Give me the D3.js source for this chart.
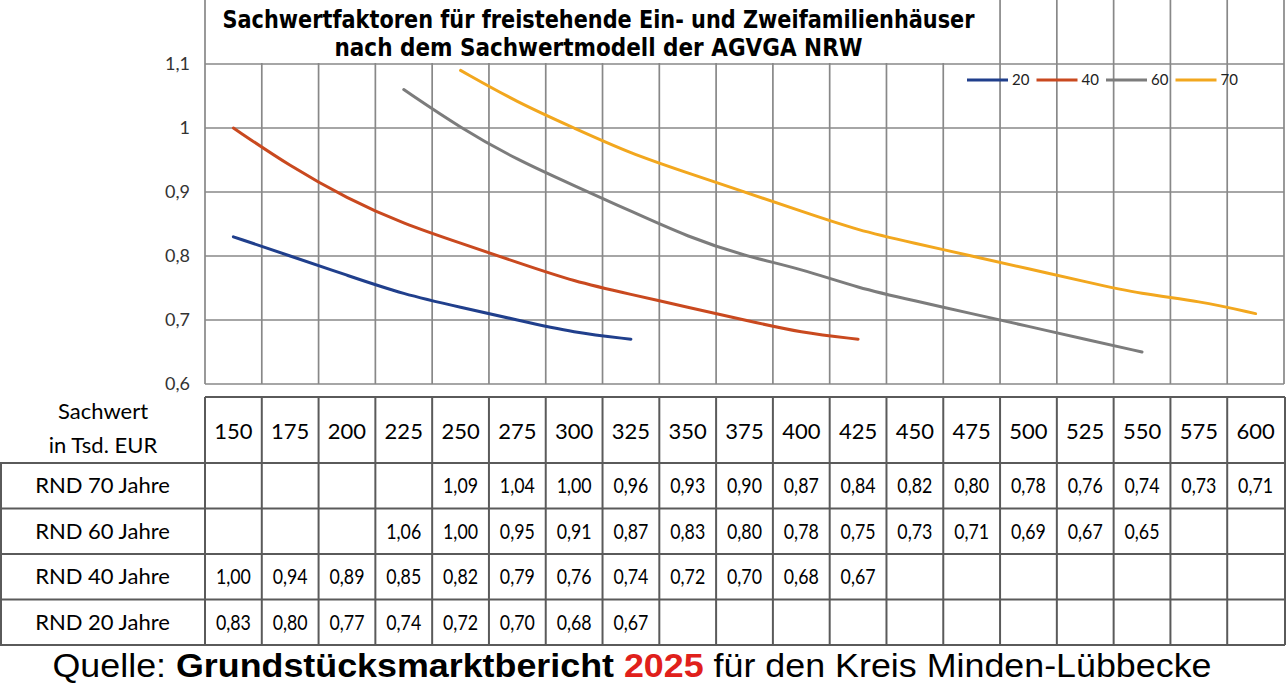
<!DOCTYPE html>
<html>
<head>
<meta charset="utf-8">
<script src="https://cdn.jsdelivr.net/npm/d3@7/dist/d3.min.js"></script>
<style>
  body { margin: 0; background: #fff; }
  svg { display: block; }
</style>
</head>
<body>
<svg id="chart" width="1287" height="686"></svg>
<script>
// Sachwert in Tsd. EUR (Spalten)
const sachwerte = [150, 175, 200, 225, 250, 275, 300, 325, 350, 375, 400, 425, 450, 475, 500, 525, 550, 575, 600]
// Sachwertfaktoren je Restnutzungsdauer, null = kein Wert
const rnd70 = [null, null, null, null, 1.09, 1.04, 1.00, 0.96, 0.93, 0.90, 0.87, 0.84, 0.82, 0.80, 0.78, 0.76, 0.74, 0.73, 0.71]
const rnd60 = [null, null, null, 1.06, 1.00, 0.95, 0.91, 0.87, 0.83, 0.80, 0.78, 0.75, 0.73, 0.71, 0.69, 0.67, 0.65, null, null]
const rnd40 = [1.00, 0.94, 0.89, 0.85, 0.82, 0.79, 0.76, 0.74, 0.72, 0.70, 0.68, 0.67, null, null, null, null, null, null, null]
const rnd20 = [0.83, 0.80, 0.77, 0.74, 0.72, 0.70, 0.68, 0.67, null, null, null, null, null, null, null, null, null, null, null]
const yTicks = [0.6, 0.7, 0.8, 0.9, 1.0, 1.1]
const yTickLabels = ['0,6', '0,7', '0,8', '0,9', '1', '1,1']
const titleLines = ['Sachwertfaktoren für freistehende Ein- und Zweifamilienhäuser', 'nach dem Sachwertmodell der AGVGA NRW']

const series = [
  {'name': '20', 'values': rnd20, 'color': '#203F8C'},
  {'name': '40', 'values': rnd40, 'color': '#C9491F'},
  {'name': '60', 'values': rnd60, 'color': '#7C7C7C'},
  {'name': '70', 'values': rnd70, 'color': '#F2A71E'}
]
const tableRows = [
  {'label': 'RND 70 Jahre', 'values': rnd70},
  {'label': 'RND 60 Jahre', 'values': rnd60},
  {'label': 'RND 40 Jahre', 'values': rnd40},
  {'label': 'RND 20 Jahre', 'values': rnd20}
]

const plot = {'left': 205, 'right': 1284, 'top': 64, 'bottom': 384}
const titleRight = 1000
const table = {'top': 397, 'headerBottom': 463, 'rowHeight': 45.5, 'labelWidth': 205}
const gridColor = '#888'
const tableColor = '#5a5a5a'
const bodyFont = "Lato, 'Open Sans', sans-serif"
const narrowFont = "'Liberation Sans Narrow', 'Arial Narrow', 'DejaVu Sans Condensed', sans-serif"

const fmt = v => v.toFixed(2).replace('.', ',')

let svg = d3.select('#chart')

let xScale = d3.scaleBand()
  .domain(sachwerte)
  .range([plot.left, plot.right])
  .padding(0)
let yScale = d3.scaleLinear()
  .domain([0.6, 1.1])
  .range([plot.bottom, plot.top])
let edgeX = (d, i) => i < sachwerte.length ? xScale(d) : plot.right

// grid of the chart
let grid = svg.append('g')
grid.selectAll('line.vgrid')
  .data(sachwerte.concat(['end']))
  .enter()
  .append('line')
  .classed('vgrid', true)
  .attr('x1', edgeX)
  .attr('x2', edgeX)
  .attr('y1', 0)
  .attr('y2', plot.bottom)
  .style('stroke', gridColor)
  .style('stroke-width', 1.7)
grid.selectAll('line.hgrid')
  .data(yTicks)
  .enter()
  .append('line')
  .classed('hgrid', true)
  .attr('x1', plot.left)
  .attr('x2', plot.right)
  .attr('y1', d => yScale(d))
  .attr('y2', d => yScale(d))
  .style('stroke', gridColor)
  .style('stroke-width', 1.7)

// y axis labels
svg.append('g')
  .selectAll('text')
  .data(yTicks)
  .enter()
  .append('text')
  .attr('x', 190)
  .attr('y', d => yScale(d))
  .attr('dy', '0.35em')
  .attr('text-anchor', 'end')
  .style('font-family', bodyFont)
  .style('font-size', '18px')
  .style('fill', '#333')
  .text((d, i) => yTickLabels[i])

// title box over the grid
svg.append('rect')
  .attr('x', plot.left + 1)
  .attr('y', 0)
  .attr('width', titleRight - plot.left - 2)
  .attr('height', plot.top - 1)
  .style('fill', '#fff')
svg.append('g')
  .selectAll('text')
  .data(titleLines)
  .enter()
  .append('text')
  .attr('x', (plot.left + titleRight) / 2 - 4)
  .attr('y', (d, i) => 28 + i * 28)
  .attr('text-anchor', 'middle')
  .attr('textLength', (d, i) => i === 0 ? 752 : 528)
  .attr('lengthAdjust', 'spacingAndGlyphs')
  .style('font-family', narrowFont)
  .style('font-weight', 'bold')
  .style('font-size', '25px')
  .style('fill', '#000')
  .text(d => d)

// lines
let line = d3.line()
  .x(d => xScale(d.x) + xScale.bandwidth() / 2)
  .y(d => yScale(d.y))
  .curve(d3.curveBasis)
series.forEach(s => {
  let data = sachwerte.map((x, i) => ({'x': x, 'y': s.values[i]})).filter(d => d.y !== null)
  svg.append('path')
    .datum(data)
    .attr('d', line)
    .style('fill', 'none')
    .style('stroke', s.color)
    .style('stroke-width', 3)
    .style('stroke-linecap', 'round')
})

// legend
let legend = svg.append('g')
  .attr('transform', 'translate(967, 80)')
  .selectAll('g')
  .data(series)
  .enter()
  .append('g')
  .attr('transform', (d, i) => `translate(${i * 69.5}, 0)`)
legend.append('line')
  .attr('x1', 0)
  .attr('x2', 41)
  .style('stroke', d => d.color)
  .style('stroke-width', 3)
legend.append('text')
  .attr('x', 45)
  .attr('dy', '0.35em')
  .style('font-family', bodyFont)
  .style('font-size', '15px')
  .style('fill', '#222')
  .text(d => d.name)

// table
let tbl = svg.append('g')
let tableBottom = table.headerBottom + tableRows.length * table.rowHeight
tbl.append('line')
  .attr('x1', plot.left)
  .attr('x2', plot.right + 1)
  .attr('y1', table.top)
  .attr('y2', table.top)
  .style('stroke', tableColor)
  .style('stroke-width', 2)
tbl.selectAll('line.hrow')
  .data(d3.range(tableRows.length + 1))
  .enter()
  .append('line')
  .classed('hrow', true)
  .attr('x1', 0)
  .attr('x2', plot.right + 1)
  .attr('y1', i => table.headerBottom + i * table.rowHeight)
  .attr('y2', i => table.headerBottom + i * table.rowHeight)
  .style('stroke', tableColor)
  .style('stroke-width', 2)
tbl.append('line')
  .attr('x1', 1)
  .attr('x2', 1)
  .attr('y1', table.headerBottom)
  .attr('y2', tableBottom)
  .style('stroke', tableColor)
  .style('stroke-width', 2)
tbl.selectAll('line.vcol')
  .data(sachwerte.concat(['end']))
  .enter()
  .append('line')
  .classed('vcol', true)
  .attr('x1', (d, i) => i < sachwerte.length ? xScale(d) : plot.right + 1)
  .attr('x2', (d, i) => i < sachwerte.length ? xScale(d) : plot.right + 1)
  .attr('y1', table.top)
  .attr('y2', tableBottom)
  .style('stroke', tableColor)
  .style('stroke-width', 2)

// header
tbl.append('text')
  .attr('x', 103)
  .attr('y', 411)
  .attr('dy', '0.35em')
  .attr('text-anchor', 'middle')
  .style('font-family', bodyFont)
  .style('font-size', '22px')
  .text('Sachwert')
tbl.append('text')
  .attr('x', 103)
  .attr('y', 445)
  .attr('dy', '0.35em')
  .attr('text-anchor', 'middle')
  .style('font-family', bodyFont)
  .style('font-size', '22px')
  .text('in Tsd. EUR')
tbl.selectAll('text.head')
  .data(sachwerte)
  .enter()
  .append('text')
  .classed('head', true)
  .attr('x', d => xScale(d) + xScale.bandwidth() / 2)
  .attr('y', (table.top + table.headerBottom) / 2 + 1)
  .attr('dy', '0.35em')
  .attr('text-anchor', 'middle')
  .style('font-family', bodyFont)
  .style('font-size', '22px')
  .text(d => d)

// rows
let rows = tbl.selectAll('g.row')
  .data(tableRows)
  .enter()
  .append('g')
  .classed('row', true)
  .attr('transform', (d, i) => `translate(0, ${table.headerBottom + (i + 0.5) * table.rowHeight})`)
rows.append('text')
  .attr('x', table.labelWidth / 2)
  .attr('dy', '0.35em')
  .attr('text-anchor', 'middle')
  .style('font-family', bodyFont)
  .style('font-size', '22px')
  .text(d => d.label)
rows.selectAll('text.val')
  .data(d => d.values.map((v, i) => ({'x': sachwerte[i], 'v': v})).filter(c => c.v !== null))
  .enter()
  .append('text')
  .classed('val', true)
  .attr('x', d => xScale(d.x) + xScale.bandwidth() / 2)
  .attr('dy', '0.35em')
  .attr('text-anchor', 'middle')
  .attr('textLength', 35)
  .attr('lengthAdjust', 'spacingAndGlyphs')
  .style('font-family', bodyFont)
  .style('font-size', '22px')
  .text(d => fmt(d.v))

// source
let source = svg.append('text')
  .attr('x', 632)
  .attr('y', 677)
  .attr('text-anchor', 'middle')
  .attr('textLength', 1159)
  .attr('lengthAdjust', 'spacingAndGlyphs')
  .style('font-family', "'Liberation Sans', Arial, sans-serif")
  .style('font-size', '34px')
  .style('fill', '#000')
source.append('tspan').text('Quelle: ')
source.append('tspan').style('font-weight', 'bold').text('Grundstücksmarktbericht ')
source.append('tspan').style('font-weight', 'bold').style('fill', '#E0201B').text('2025')
source.append('tspan').text(' für den Kreis Minden-Lübbecke')
</script>
</body>
</html>
